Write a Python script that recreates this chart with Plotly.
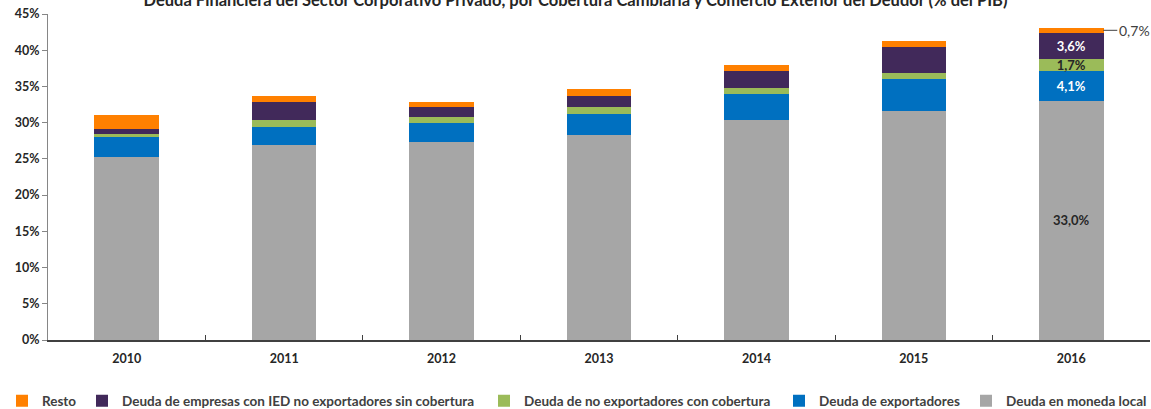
import plotly.graph_objects as go

years = ["2010", "2011", "2012", "2013", "2014", "2015", "2016"]

local_currency = [25.3, 26.9, 27.4, 28.3, 30.3, 31.6, 33.0]
exporters = [2.7, 2.5, 2.5, 2.9, 3.7, 4.4, 4.1]
non_exp_hedged = [0.5, 1.0, 0.9, 0.9, 0.8, 0.9, 1.7]
fdi_unhedged = [0.6, 2.5, 1.4, 1.6, 2.3, 3.5, 3.6]
rest = [2.0, 0.8, 0.7, 0.9, 0.8, 0.9, 0.7]

series = [
    ("Deuda en moneda local", local_currency, "#A6A6A6", "#262626"),
    ("Deuda de exportadores", exporters, "#0070C0", "white"),
    ("Deuda de no exportadores con cobertura", non_exp_hedged, "#9BBB59", "#262626"),
    ("Deuda de empresas con IED no exportadores sin cobertura", fdi_unhedged, "#41295A", "white"),
    ("Resto", rest, "#FF8000", "#262626"),
]

# legend text start (px) for each entry, as in the reference
legend_px = {"Resto": 42, "Deuda de empresas con IED no exportadores sin cobertura": 122,
             "Deuda de no exportadores con cobertura": 524, "Deuda de exportadores": 819,
             "Deuda en moneda local": 1006}

FONT = "Lato"
W, H = 1151, 409

fig = go.Figure()
legend_layouts = {}
for i, (name, vals, color, txtcolor) in enumerate(series):
    lg = "legend" if i == 0 else f"legend{i + 1}"
    # only the last year carries a data label (Resto gets an outside callout)
    labels = [""] * (len(vals) - 1) + ([f"{vals[-1]:.1f}%".replace(".", ",")] if name != "Resto" else [""])
    fig.add_trace(go.Bar(
        x=years, y=vals, name=name, marker=dict(color=color, line=dict(width=0)),
        text=labels, textposition="inside", insidetextanchor="middle",
        textfont=dict(family=FONT, size=13, color=txtcolor, weight="bold"),
        legend=lg, showlegend=True, hoverinfo="skip",
    ))
    legend_layouts[lg] = dict(
        visible=True, orientation="h", xref="container", yref="container",
        x=max(legend_px[name] - 40, 0) / W, xanchor="left",
        y=1 - 401 / H, yanchor="middle",
        font=dict(family=FONT, size=13.5, color="#404040", weight="bold"),
        bgcolor="rgba(0,0,0,0)", borderwidth=0,
    )

# callout for Resto 2016 (category index of the last year)
top_2016 = sum(s[1][-1] for s in series)
fig.add_annotation(
    x=len(years) - 1, y=top_2016 - rest[-1] / 2, xshift=32,
    ax=14, ay=0, axref="pixel", ayref="pixel",
    text=f"{rest[-1]:.1f}%".replace(".", ","), showarrow=True, arrowhead=0,
    arrowwidth=1, arrowcolor="#404040", xanchor="left",
    font=dict(family=FONT, size=14, color="#404040"),
)

fig.update_layout(
    barmode="stack", bargap=0.59,
    width=W, height=H, showlegend=True,
    margin=dict(l=48, r=1, t=14, b=69),
    paper_bgcolor="white", plot_bgcolor="white",
    uniformtext=dict(minsize=13, mode="show"),
    title=dict(
        text="Deuda Financiera del Sector Corporativo Privado, por Cobertura Cambiaria y Comercio Exterior del Deudor (% del PIB)",
        x=0.5, xref="container", xanchor="center",
        y=1.0, yref="container", yanchor="middle",
        font=dict(family=FONT, size=16.5, color="#262626", weight="bold"),
    ),
    **legend_layouts,
)
fig.update_xaxes(
    type="category", range=[-0.5, len(years) - 0.5],
    showline=True, linecolor="#404040", linewidth=1.5,
    ticks="inside", ticklen=5, tickcolor="#404040", tickson="boundaries",
    ticklabelstandoff=6,
    tickfont=dict(family=FONT, size=12.5, color="#262626", weight="bold"),
    showgrid=False,
)
fig.update_yaxes(
    range=[0, 45], dtick=5, ticksuffix="%",
    showline=True, linecolor="#868686", linewidth=1,
    ticks="outside", ticklen=5, tickcolor="#868686",
    tickfont=dict(family=FONT, size=12.5, color="#262626", weight="bold"),
    showgrid=False, zeroline=False,
)

# drop the default page margin so the figure sits at the window's corner
fig.write_html("out.html", config={"displayModeBar": False},
               post_script="document.body.style.margin = '0';")
